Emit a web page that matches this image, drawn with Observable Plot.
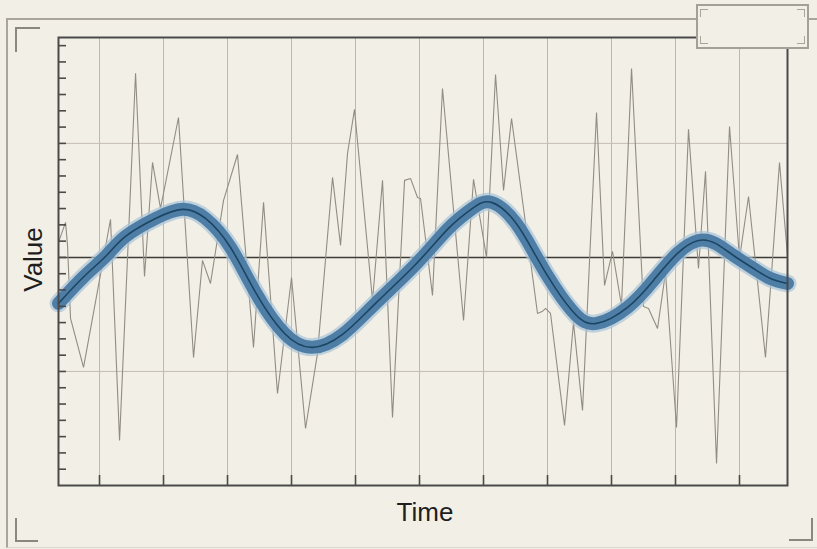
<!DOCTYPE html>
<html>
<head>
<meta charset="utf-8">
<script src="https://cdn.jsdelivr.net/npm/d3@7"></script>
<script src="https://cdn.jsdelivr.net/npm/@observablehq/plot@0.6"></script>
<style>
  html, body { margin: 0; padding: 0; background: #f2efe6; }
  #wrap { position: relative; width: 817px; height: 549px; overflow: hidden; background: #f2efe6; }
  #wrap svg { position: absolute; left: 0; top: 0; }
  .deco { position: absolute; box-sizing: border-box; }
</style>
</head>
<body>
<div id="wrap"></div>
<script>
// ---- Data ----
// Noisy raw series: time, value
const rawTime = [-6.41,-5.31,-5.0,-4.53,-2.5,1.72,3.13,5.63,7.03,8.28,9.53,12.34,14.69,16.09,17.34,19.38,21.56,24.06,25.63,27.81,30.0,32.19,34.06,36.41,37.66,38.75,39.84,42.66,44.22,45.78,47.66,48.59,49.69,50.16,52.03,53.59,56.88,58.44,60.47,61.88,63.13,64.38,68.44,69.22,69.69,70.47,72.66,74.06,75.47,77.66,78.91,80.16,81.56,83.13,85.0,85.78,87.19,88.44,90.16,92.03,93.59,94.69,96.41,98.44,100.0,101.41,104.06,106.25,107.5];
const rawValue = [0.92,2.15,0.74,-3.74,-6.75,2.33,-11.23,11.3,-1.17,5.83,3.01,8.59,-6.14,-0.18,-1.6,3.5,6.32,-5.52,3.38,-8.35,-1.23,-10.5,-5.89,4.91,0.74,6.38,9.09,-2.64,4.73,-9.82,4.73,4.85,3.68,3.62,-2.33,10.37,-3.87,4.79,0,11.23,4.11,8.53,-3.44,-3.31,-3.13,-3.44,-10.31,-3.99,-9.39,8.9,-1.72,0.37,-2.95,11.6,-3.01,-3.13,-4.36,-0.92,-10.44,7.86,-0.68,5.28,-12.65,8.04,-0.06,3.74,-6.14,5.83,0.12];

// Smoothed trend series: time, value
const trendTime = [-6.41,-2.5,1.09,4.06,8.75,12.97,16.56,20.47,24.38,28.91,33.28,37.97,43.13,49.53,54.53,58.28,61.25,65.0,68.13,71.25,74.38,77.66,82.5,86.56,90.31,93.59,96.25,99.06,102.19,104.84,107.5];
const trendValue = [-2.82,-1.2,0.12,1.29,2.39,2.95,2.39,0.61,-2.15,-4.67,-5.52,-4.73,-2.82,-0.37,1.78,3.01,3.38,2.15,0.12,-1.9,-3.5,-4.05,-3.07,-1.41,0.25,1.04,0.86,0.12,-0.68,-1.29,-1.6];

// Axis / grid values
const xDomain = [-6.41, 107.5];
const yDomain = [-14, 13.5];
const xGrid = [0,10,20,30,40,50,60,70,80,90,100];
const yGrid = [-7, 7];
const yZero = [0];
const yTicks = [-13,-12,-11,-10,-9,-8,-7,-6,-5,-4,-3,-2,-1,0,1,2,3,4,5,6,7,8,9,10,11,12,13];
const xLabel = "Time";
const yLabel = "Value";

// ---- Build tables ----
const raw = rawTime.map((t, i) => ({t, v: rawValue[i]}));
const trend = trendTime.map((t, i) => ({t, v: trendValue[i]}));

const chart = Plot.plot({
  width: 817,
  height: 549,
  marginLeft: 58,
  marginRight: 30,
  marginTop: 37,
  marginBottom: 64,
  style: {background: "transparent", fontFamily: "'Liberation Sans', Arial, sans-serif", color: "#222"},
  x: {domain: xDomain, axis: null},
  y: {domain: yDomain, axis: null},
  marks: [
    Plot.ruleX(xGrid, {stroke: "#bfb9ad", strokeWidth: 1}),
    Plot.ruleY(yGrid, {stroke: "#c4beb2", strokeWidth: 1}),
    Plot.ruleY(yZero, {stroke: "#3c3a36", strokeWidth: 1.5}),
    Plot.line(raw, {x: "t", y: "v", stroke: "#928d84", strokeWidth: 1.1, strokeLinejoin: "miter"}),
    Plot.line(trend, {x: "t", y: "v", curve: "natural", stroke: "#a8c3d7", strokeOpacity: 0.7, strokeWidth: 18}),
    Plot.line(trend, {x: "t", y: "v", curve: "natural", stroke: "#4e7ea5", strokeWidth: 13}),
    Plot.line(trend, {x: "t", y: "v", curve: "natural", stroke: "#1b4564", strokeWidth: 1.6}),
    Plot.tickY(yTicks, {y: d => d, insetRight: 721, stroke: "#4a4a4a", strokeWidth: 1.6}),
    Plot.tickX(xGrid, {x: d => d, insetTop: 438, stroke: "#4a4a4a", strokeWidth: 1.6}),
    Plot.frame({stroke: "#4a4a4a", strokeWidth: 2}),
    Plot.text([xLabel], {frameAnchor: "bottom", textAnchor: "middle", lineAnchor: "middle", dy: 27, dx: 2, fontSize: 26, fill: "#1e1e1e"}),
    Plot.text([yLabel], {frameAnchor: "left", textAnchor: "middle", lineAnchor: "middle", rotate: -90, dx: -25, dy: -2, fontSize: 26, fill: "#1e1e1e"})
  ]
});

const wrap = document.getElementById("wrap");
function deco(css) {
  const d = document.createElement("div");
  d.className = "deco";
  d.setAttribute("style", css);
  wrap.appendChild(d);
  return d;
}
// outer panel border
deco("left:6px; top:18px; width:830px; height:530px; border-left:2px solid #a9a59c; border-top:2px solid #a9a59c; border-bottom:1px solid #dcd8cf;");
wrap.appendChild(chart);
// corner brackets
deco("left:15px; top:27px; width:25px; height:25px; border-left:2px solid #8a8780; border-top:2px solid #8a8780;");
deco("left:15px; top:518px; width:23px; height:24px; border-left:2px solid #8a8780; border-bottom:2px solid #8a8780;");
deco("left:789px; top:518px; width:24px; height:23px; border-right:2px solid #8a8780; border-bottom:2px solid #8a8780;");
// empty legend box
deco("left:696px; top:4px; width:113px; height:45px; border:2px solid #a3a098; background:#f2efe6;");
deco("left:700px; top:9px; width:8px; height:8px; border-left:1.5px solid #a8a59d; border-top:1.5px solid #a8a59d;");
deco("left:797px; top:9px; width:8px; height:8px; border-right:1.5px solid #a8a59d; border-top:1.5px solid #a8a59d;");
deco("left:700px; top:36px; width:8px; height:8px; border-left:1.5px solid #a8a59d; border-bottom:1.5px solid #a8a59d;");
deco("left:797px; top:36px; width:8px; height:8px; border-right:1.5px solid #a8a59d; border-bottom:1.5px solid #a8a59d;");
</script>
</body>
</html>
